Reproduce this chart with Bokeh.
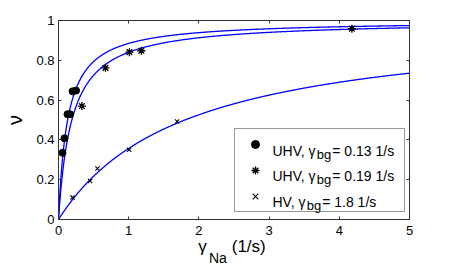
import numpy as np
from bokeh.plotting import figure
from bokeh.models import (LinearAxis, Range1d, Legend, LegendItem, FixedTicker)
from bokeh.core.properties import value
from bokeh.embed import file_html
from bokeh.resources import INLINE

# ---- data ----
uhv13_gamma = [0.057, 0.085, 0.128, 0.166, 0.20, 0.25]
uhv13_nu = [0.335, 0.408, 0.529, 0.529, 0.644, 0.648]

uhv19_gamma = [0.333, 0.669, 1.01, 1.18, 4.18]
uhv19_nu = [0.570, 0.762, 0.841, 0.848, 0.959]

hv_gamma = [0.20, 0.45, 0.555, 1.006, 1.69]
hv_nu = [0.110, 0.193, 0.256, 0.350, 0.492]

# fitted background rates (legend); fit model nu = g / (g + g_bg)
fit_gbg = [0.13, 0.19, 1.8]
legend_names = ["UHV, \u03b3", "UHV, \u03b3", "HV, \u03b3"]
legend_sub = ["bg", "bg", "bg"]
legend_values = ["= 0.13 1/s", "= 0.19 1/s", "= 1.8 1/s"]

x_ticks = [0, 1, 2, 3, 4, 5]
y_ticks = [0, 0.2, 0.4, 0.6, 0.8, 1]
y_tick_labels = ["0", "0.2", "0.4", "0.6", "0.8", "1"]

FONT = "Liberation Sans"
AX = "#333333"

# frame: 351 x 202 px, left 58, top 20
p = figure(width=444, height=268, output_backend="svg", toolbar_location=None,
           title_location=None,
           x_range=Range1d(0, 5), y_range=Range1d(0, 1),
           min_border_left=58, min_border_right=35, min_border_top=20,
           min_border_bottom=46, x_axis_location=None, y_axis_location=None)
p.grid.visible = False
p.outline_line_color = None


def style_axis(ax, ticks, labels=True):
    ax.ticker = FixedTicker(ticks=ticks)
    ax.axis_line_color = AX
    ax.major_tick_line_color = AX
    ax.major_tick_in = 3
    ax.major_tick_out = 0
    ax.minor_tick_line_color = None
    ax.major_label_text_font = FONT
    ax.major_label_text_color = "black"
    ax.major_label_text_font_size = "13px"
    if not labels:
        ax.major_label_text_color = None
        ax.major_label_text_font_size = "6px"
        ax.major_label_standoff = 0


bx = LinearAxis()
tx = LinearAxis()
ly = LinearAxis()
ry = LinearAxis()
style_axis(bx, x_ticks)
style_axis(tx, x_ticks, False)
style_axis(ly, y_ticks)
style_axis(ry, y_ticks, False)
bx.major_label_standoff = 6
ly.major_label_standoff = 4
ly.major_label_overrides = {t: s for t, s in zip(y_ticks, y_tick_labels)}
ly.axis_label = "\u03bd"
ly.axis_label_text_font = FONT
ly.axis_label_text_font_size = "20px"
ly.axis_label_text_font_style = "normal"
ly.axis_label_text_color = "black"
ly.axis_label_standoff = 7


def text_axis(ticks, labels, size, standoff):
    # an axis below the numbers, used only to write the x-axis label pieces
    ax = LinearAxis(ticker=FixedTicker(ticks=ticks))
    ax.major_label_overrides = dict(zip(ticks, labels))
    ax.axis_line_color = None
    ax.major_tick_line_color = None
    ax.minor_tick_line_color = None
    ax.major_tick_in = 0
    ax.major_tick_out = 0
    ax.major_label_text_font = FONT
    ax.major_label_text_font_size = size
    ax.major_label_text_color = "black"
    ax.major_label_standoff = standoff
    return ax


lx = text_axis([2.05, 2.71], ["\u03b3", "(1/s)"], "17px", -1)
nx = text_axis([2.27], ["Na"], "14px", -9)

p.add_layout(bx, "below")
p.add_layout(lx, "below")
p.add_layout(nx, "below")
p.add_layout(tx, "above")
p.add_layout(ly, "left")
p.add_layout(ry, "right")

# fit curves
g = np.linspace(0, 5, 1201)
for gb in fit_gbg:
    p.line(g, g / (g + gb), line_color="#0000ff", line_width=1.3)

r1 = p.scatter(uhv13_gamma, uhv13_nu, marker="circle", size=7,
               fill_color="black", line_color="black")
r2 = p.scatter(uhv19_gamma, uhv19_nu, marker="asterisk", size=8,
               line_color="black", line_width=1.3)
r3 = p.scatter(hv_gamma, hv_nu, marker="x", size=6,
               line_color="black", line_width=1.1)

legend = Legend(items=[LegendItem(label=" ", renderers=[r]) for r in (r1, r2, r3)],
                location=(176, 7), margin=0, padding=5, spacing=6,
                glyph_width=30, glyph_height=20, label_height=20,
                label_width=127, label_standoff=2,
                label_text_font_size="14px", label_text_font=FONT,
                border_line_color=AX, border_line_width=1,
                background_fill_alpha=0)
p.add_layout(legend)

# legend texts (with subscripts), placed by pixel offsets inside the frame
PX_X = 351 / 5.0
PX_Y = 202 / 1.0
row_base = [69.5, 44.5, 18.0]          # baseline, px above frame bottom
name_w = [44.3, 44.3, 34.2]            # width of name text at 14px
x0 = 214.0
for i in range(3):
    p.text(x=[x0 / PX_X], y=[row_base[i] / PX_Y], text=[legend_names[i]],
           text_font=value(FONT), text_font_size="14px", text_color="black",
           text_baseline="alphabetic")
    p.text(x=[(x0 + name_w[i]) / PX_X], y=[(row_base[i] - 3.5) / PX_Y],
           text=[legend_sub[i]], text_font=value(FONT), text_font_size="13px",
           text_color="black", text_baseline="alphabetic")
    p.text(x=[(x0 + name_w[i] + 15.5) / PX_X], y=[row_base[i] / PX_Y],
           text=[legend_values[i]], text_font=value(FONT), text_font_size="14px",
           text_color="black", text_baseline="alphabetic")

open("out.html", "w").write(file_html(p, INLINE))
